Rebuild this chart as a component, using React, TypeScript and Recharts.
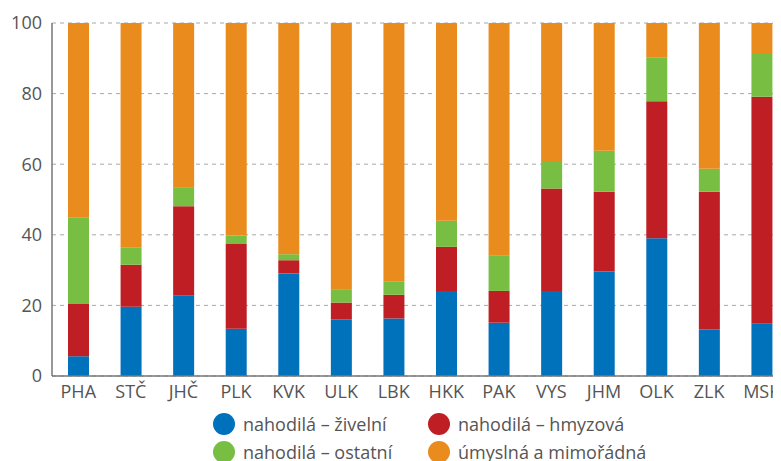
import React from 'react';
import { BarChart, Bar, XAxis, YAxis, CartesianGrid, Legend } from 'recharts';

const regions = ['PHA', 'STČ', 'JHČ', 'PLK', 'KVK', 'ULK', 'LBK', 'HKK', 'PAK', 'VYS', 'JHM', 'OLK', 'ZLK', 'MSK'];
const zivelni = [5.6, 19.6, 22.9, 13.4, 29.0, 16.0, 16.3, 24.1, 15.1, 24.1, 29.6, 39.0, 13.2, 14.8];
const hmyzova = [14.8, 11.9, 25.2, 24.0, 3.8, 4.8, 6.7, 12.5, 9.0, 29.0, 22.6, 38.8, 39.0, 64.3];
const ostatni = [24.6, 5.0, 5.4, 2.4, 1.7, 3.8, 3.7, 7.4, 10.0, 7.8, 11.6, 12.5, 6.5, 12.4];
const umyslna = [55.0, 63.5, 46.5, 60.2, 65.5, 75.4, 73.3, 56.0, 65.9, 39.1, 36.2, 9.7, 41.3, 8.5];
const yTicks = [0, 20, 40, 60, 80, 100];

const series = [
  { key: 'zivelni', name: 'nahodilá – živelní', color: '#0071bb' },
  { key: 'hmyzova', name: 'nahodilá – hmyzová', color: '#be1e24' },
  { key: 'ostatni', name: 'nahodilá – ostatní', color: '#78be43' },
  { key: 'umyslna', name: 'úmyslná a mimořádná', color: '#e98b1d' },
];

const data = regions.map((r, i) => ({
  region: r,
  zivelni: zivelni[i],
  hmyzova: hmyzova[i],
  ostatni: ostatni[i],
  umyslna: umyslna[i],
}));

const font = '"Open Sans", sans-serif';

// legend: 2x2 grid of round swatches, lower row is cut by the page edge like in the source
function LegendBox() {
  return (
    <div style={{ height: 60, boxSizing: 'border-box', paddingTop: 4, display: 'grid', gridTemplateColumns: '215px 260px', gridAutoRows: 28, marginLeft: 205, fontFamily: font, fontSize: 18, color: '#555' }}>
      {series.map((s) => (
        <div key={s.key} style={{ display: 'flex', alignItems: 'center' }}>
          <span style={{ width: 22, height: 22, borderRadius: 11, background: s.color, marginRight: 8, flex: 'none' }} />
          <span style={{ whiteSpace: 'nowrap' }}>{s.name}</span>
        </div>
      ))}
    </div>
  );
}

export default function App() {
  return (
    <div style={{ width: 773, height: 453, overflow: 'hidden' }}>
      <BarChart width={800} height={458} data={data} margin={{ top: 15, right: 20, left: 0, bottom: 0 }}>
        <CartesianGrid vertical={false} stroke="#a8a8a8" strokeDasharray="4 4" />
        <XAxis
          dataKey="region"
          tickLine={false}
          axisLine={{ stroke: '#777', strokeWidth: 1.5 }}
          tick={{ fill: '#555', fontSize: 18, fontFamily: font }}
          tickSize={0}
          tickMargin={9}
          interval={0}
          height={30}
        />
        <YAxis
          domain={[0, 100]}
          ticks={yTicks}
          width={44}
          tickLine={false}
          axisLine={{ stroke: '#777', strokeWidth: 1.5 }}
          tick={{ fill: '#555', fontSize: 18, fontFamily: font }}
          tickSize={0}
          tickMargin={10}
        />
        <Legend verticalAlign="bottom" content={() => <LegendBox />} wrapperStyle={{ paddingTop: 0 }} />
        {series.map((s) => (
          <Bar key={s.key} dataKey={s.key} name={s.name} stackId="a" fill={s.color} barSize={21} isAnimationActive={false} />
        ))}
      </BarChart>
    </div>
  );
}
